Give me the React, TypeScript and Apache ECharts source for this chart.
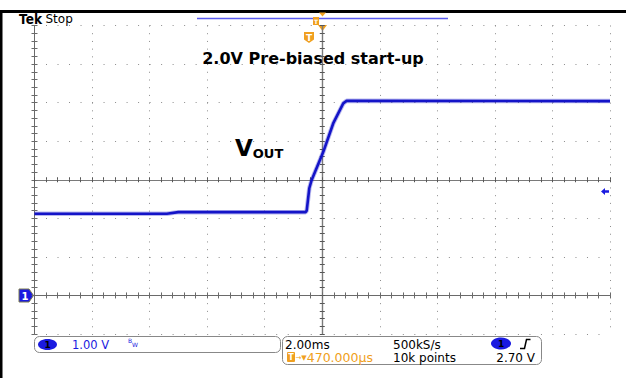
import { useEffect, useRef } from "react";
import * as echarts from "echarts";

// Captured waveform: time (ms from left edge of screen) and output voltage (V)
const timeMs = [0, 4.6, 5.0, 9.42, 9.46, 9.55, 9.63, 10.04, 10.38, 10.73, 10.85, 20];
const voutV = [2.12, 2.12, 2.16, 2.16, 2.2, 2.78, 2.99, 3.73, 4.46, 4.98, 5.05, 5.04];

// Screen scale: 10 horizontal divisions of 2 ms, 8 vertical divisions of 1 V
const timeRange = [0, 20];
const timeDiv = 2;
const voltRange = [-1, 7];
const voltDiv = 1;

// Readout texts
const title = "2.0V Pre-biased start-up";
const chScale = "1.00 V";
const timeScale = "2.00ms";
const sampleRate = "500kS/s";
const triggerDelay = "470.000µs";
const recordLength = "10k points";
const triggerLevel = "2.70 V";

const FONT = "DejaVu Sans";
const GRID = { left: 34.5, top: 25.5, width: 575.5, height: 308.5 };
const FRAME = "#6a6a6a";
const DOTS = "#8c8c8c";
const TRACE = "#1414c8";
const ORANGE = "#f0a020";
const CH_BLUE = "#1a1ae0";

export default function App() {
  const ref = useRef<HTMLDivElement>(null);

  useEffect(() => {
    if (!ref.current) return;
    const chart = echarts.init(ref.current, undefined, { renderer: "svg" });

    const minorX = (GRID.height / 8) / 5;
    const minorY = (GRID.width / 10) / 5;

    const borderAxis = (extra: any) => ({
      type: "value",
      axisLine: { show: true, lineStyle: { color: FRAME, width: 1 } },
      axisTick: { show: true, inside: true, length: 3, lineStyle: { color: FRAME } },
      minorTick: { show: true, splitNumber: 5, length: 3, lineStyle: { color: FRAME } },
      axisLabel: { show: false },
      splitLine: { show: false },
      ...extra,
    });

    const centerAxis = (extra: any, inside: boolean) => ({
      type: "value",
      gridIndex: 1,
      axisLine: { show: true, onZero: true, lineStyle: { color: "#7a7a7a", width: 1.2 } },
      axisTick: { show: true, inside, length: 2.5, lineStyle: { color: "#555" } },
      minorTick: { show: true, splitNumber: 5, length: 2.5, lineStyle: { color: "#555" } },
      axisLabel: { show: false },
      splitLine: { show: false },
      ...extra,
    });

    const xy = (x: number, y: number) => [x, y];
    const txt = (size: number, bold = false) => `${bold ? "bold " : ""}${size}px "${FONT}"`;

    chart.setOption({
      animation: false,
      backgroundColor: "#ffffff",
      grid: [
        { ...GRID, containLabel: false },
        { ...GRID, containLabel: false },
      ],
      xAxis: [
        borderAxis({
          position: "bottom",
          min: timeRange[0],
          max: timeRange[1],
          interval: timeDiv,
          splitLine: { show: true, lineStyle: { color: DOTS, width: 1, type: [1, minorX - 1] } },
        }),
        borderAxis({ position: "top", min: timeRange[0], max: timeRange[1], interval: timeDiv }),
        centerAxis({ position: "bottom", min: -5, max: 5, interval: 1 }, true),
        centerAxis({ position: "bottom", min: -5, max: 5, interval: 1 }, false),
      ],
      yAxis: [
        borderAxis({
          position: "left",
          min: voltRange[0],
          max: voltRange[1],
          interval: voltDiv,
          splitLine: { show: true, lineStyle: { color: DOTS, width: 1, type: [1, minorY - 1] } },
        }),
        borderAxis({ position: "right", min: voltRange[0], max: voltRange[1], interval: voltDiv }),
        centerAxis({ position: "left", min: -4, max: 4, interval: 1 }, true),
        centerAxis({ position: "left", min: -4, max: 4, interval: 1 }, false),
      ],
      series: [
        {
          // faint halo standing in for the acquisition noise band
          type: "line",
          xAxisIndex: 0,
          yAxisIndex: 0,
          data: timeMs.map((t, i) => [t, voutV[i]]),
          showSymbol: false,
          lineStyle: { color: TRACE, width: 4.5, opacity: 0.3 },
          silent: true,
          z: 5,
        },
        {
          type: "line",
          xAxisIndex: 0,
          yAxisIndex: 0,
          data: timeMs.map((t, i) => [t, voutV[i]]),
          showSymbol: false,
          lineStyle: { color: TRACE, width: 2.6 },
          silent: true,
          z: 6,
        },
      ],
      graphic: [
        // outer frame
        { type: "rect", shape: { x: 0, y: 10, width: 626, height: 3 }, style: { fill: "#000" } },
        { type: "rect", shape: { x: 0, y: 10, width: 2.5, height: 368 }, style: { fill: "#000" } },
        // header
        {
          type: "text", x: 19, y: 12, scaleX: 0.84,
          style: { text: "Tek", font: txt(14.5, true), fill: "#000" },
        },
        { type: "text", x: 45.5, y: 12.5, style: { text: "Stop", font: txt(12), fill: "#000" } },
        { type: "line", shape: { x1: 197, y1: 18.5, x2: 448, y2: 18.5 }, style: { stroke: "#5a5af0", lineWidth: 1.5 } },
        { type: "rect", shape: { x: 313, y: 17, width: 6, height: 8 }, style: { fill: ORANGE } },
        {
          type: "text", x: 316, y: 21.5,
          style: { text: "T", font: txt(6, true), fill: "#fff", align: "center", verticalAlign: "middle" },
        },
        { type: "polygon", shape: { points: [xy(319, 12.5), xy(326, 12.5), xy(322.5, 16.5)] }, style: { fill: ORANGE } },
        { type: "polygon", shape: { points: [xy(318, 25), xy(327, 25), xy(322.5, 31)] }, style: { fill: ORANGE } },
        // trigger position marker
        {
          type: "polygon",
          shape: { points: [xy(304, 32), xy(314, 32), xy(314, 39.5), xy(309, 43), xy(304, 39.5)] },
          style: { fill: ORANGE },
        },
        {
          type: "text", x: 309, y: 37.5,
          style: { text: "T", font: txt(9, true), fill: "#fff", align: "center", verticalAlign: "middle" },
        },
        // annotations
        {
          type: "text", x: 313, y: 58,
          style: { text: title, font: txt(16, true), fill: "#000", align: "center", verticalAlign: "middle" },
        },
        {
          type: "text", x: 235, y: 148,
          style: {
            text: "{v|V}{s|OUT}",
            verticalAlign: "middle",
            rich: {
              v: { font: txt(23, true), fill: "#000", verticalAlign: "bottom" },
              s: { font: txt(13, true), fill: "#000", verticalAlign: "bottom" },
            },
          },
        },
        // channel 1 ground marker
        {
          type: "polygon",
          shape: { points: [xy(19, 289), xy(29, 289), xy(33.5, 295.5), xy(29, 302), xy(19, 302)] },
          style: { fill: CH_BLUE, stroke: "#7c7c50", lineWidth: 1 },
        },
        {
          type: "text", x: 25, y: 296,
          style: { text: "1", font: txt(10, true), fill: "#fff", align: "center", verticalAlign: "middle" },
        },
        // trigger level marker
        {
          type: "polygon",
          shape: {
            points: [xy(601, 191.5), xy(605, 188), xy(605, 190.3), xy(609, 190.3), xy(609, 192.7), xy(605, 192.7), xy(605, 195)],
          },
          style: { fill: CH_BLUE },
        },
        // vertical readout box
        {
          type: "rect", shape: { x: 34.5, y: 336.5, width: 246, height: 16, r: 5 },
          style: { fill: "none", stroke: "#888", lineWidth: 1 },
        },
        { type: "ellipse", shape: { cx: 47.5, cy: 344.5, rx: 9.5, ry: 5.5 }, style: { fill: CH_BLUE } },
        {
          type: "text", x: 47.5, y: 344.5,
          style: { text: "1", font: txt(9, true), fill: "#000", align: "center", verticalAlign: "middle" },
        },
        {
          type: "text", x: 72, y: 344.5,
          style: { text: chScale, font: txt(11.5), fill: CH_BLUE, verticalAlign: "middle" },
        },
        { type: "text", x: 128, y: 340.5, style: { text: "B", font: txt(6), fill: CH_BLUE, verticalAlign: "middle" } },
        { type: "text", x: 132, y: 344.5, style: { text: "W", font: txt(6), fill: CH_BLUE, verticalAlign: "middle" } },
        // horizontal / trigger readout box
        {
          type: "rect", shape: { x: 282.5, y: 336.5, width: 259, height: 28, r: 5 },
          style: { fill: "none", stroke: "#888", lineWidth: 1 },
        },
        {
          type: "text", x: 285, y: 344.5,
          style: { text: timeScale, font: txt(12), fill: "#000", verticalAlign: "middle" },
        },
        {
          type: "text", x: 393, y: 344.5,
          style: { text: sampleRate, font: txt(12), fill: "#000", verticalAlign: "middle" },
        },
        { type: "ellipse", shape: { cx: 501, cy: 343.5, rx: 10, ry: 6 }, style: { fill: CH_BLUE } },
        {
          type: "text", x: 501, y: 344,
          style: { text: "1", font: txt(9, true), fill: "#000", align: "center", verticalAlign: "middle" },
        },
        {
          type: "polyline",
          shape: { points: [xy(520, 348.5), xy(524.5, 348.5), xy(526.5, 339.5), xy(530.5, 339.5)] },
          style: { stroke: "#000", lineWidth: 1.5, fill: "none" },
        },
        { type: "rect", shape: { x: 287, y: 352, width: 8, height: 10, r: 1 }, style: { fill: ORANGE } },
        {
          type: "text", x: 291, y: 357.5,
          style: { text: "T", font: txt(8, true), fill: "#fff", align: "center", verticalAlign: "middle" },
        },
        {
          type: "text", x: 295.5, y: 357.5,
          style: {
            text: "{a|→}{b|▼}{c|" + triggerDelay + "}",
            verticalAlign: "middle",
            rich: {
              a: { font: txt(7), fill: ORANGE },
              b: { font: txt(7), fill: ORANGE },
              c: { font: txt(12.5), fill: ORANGE },
            },
          },
        },
        {
          type: "text", x: 393, y: 357.5,
          style: { text: recordLength, font: txt(12), fill: "#000", verticalAlign: "middle" },
        },
        {
          type: "text", x: 535, y: 357.5,
          style: { text: triggerLevel, font: txt(12), fill: "#000", align: "right", verticalAlign: "middle" },
        },
      ],
    });

    return () => chart.dispose();
  }, []);

  return (
    <div
      ref={ref}
      style={{ position: "absolute", left: 0, top: 0, width: 626, height: 378, background: "#fff" }}
    />
  );
}
